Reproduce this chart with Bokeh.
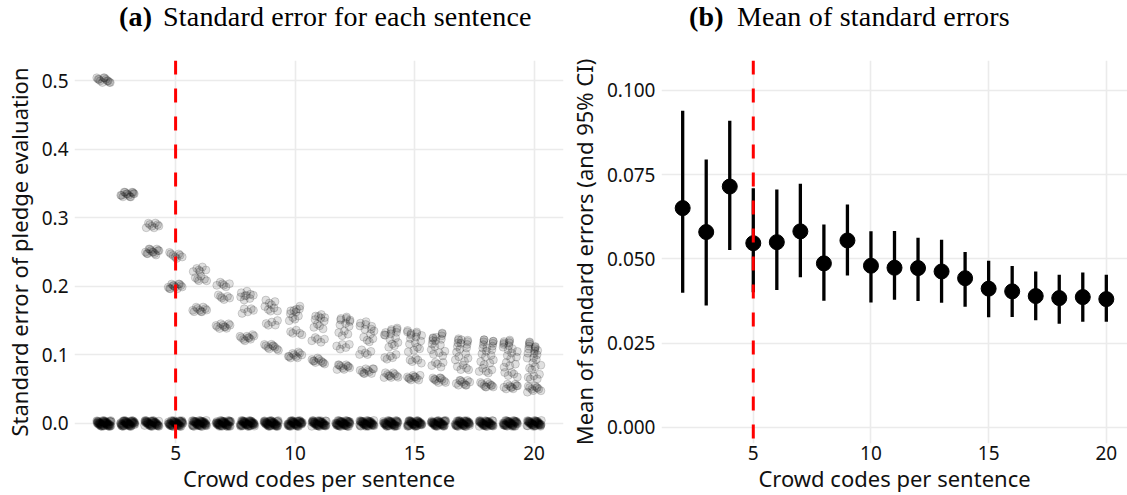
from bokeh.plotting import figure
from bokeh.models import ColumnDataSource, Span, FixedTicker, NumeralTickFormatter, Range1d, Div
from bokeh.layouts import row, column
from bokeh.embed import file_html
from bokeh.resources import INLINE

# ---- data -------------------------------------------------------------
codes = [2, 3, 4, 5, 6, 7, 8, 9, 10, 11, 12, 13, 14, 15, 16, 17, 18, 19, 20]

# sentences whose crowd codes all agree (standard error 0)
zero_counts = [60, 56, 52, 52, 54, 54, 54, 54, 52, 52, 52, 52, 50, 50, 50, 50, 48, 48, 48]

# distinct non-zero standard errors per number of codes, and how many sentences have each
se_levels = [
    [0.500],
    [0.333],
    [0.250, 0.289],
    [0.200, 0.245],
    [0.167, 0.211, 0.224],
    [0.143, 0.184, 0.202],
    [0.125, 0.164, 0.183, 0.189],
    [0.111, 0.147, 0.167, 0.176],
    [0.100, 0.133, 0.153, 0.163, 0.167],
    [0.091, 0.122, 0.141, 0.152, 0.157],
    [0.083, 0.112, 0.131, 0.142, 0.149, 0.151],
    [0.077, 0.104, 0.122, 0.133, 0.140, 0.144],
    [0.071, 0.097, 0.114, 0.125, 0.133, 0.137, 0.139],
    [0.067, 0.091, 0.107, 0.118, 0.126, 0.131, 0.133],
    [0.063, 0.085, 0.101, 0.112, 0.120, 0.125, 0.128, 0.129],
    [0.059, 0.081, 0.095, 0.106, 0.114, 0.119, 0.123, 0.125],
    [0.056, 0.076, 0.090, 0.101, 0.109, 0.114, 0.118, 0.121, 0.121],
    [0.053, 0.072, 0.086, 0.096, 0.104, 0.110, 0.114, 0.116, 0.118],
    [0.050, 0.069, 0.082, 0.092, 0.099, 0.105, 0.109, 0.112, 0.114, 0.115],
]
se_counts = [
    [12],
    [14],
    [13, 8],
    [12, 8],
    [10, 6, 6],
    [10, 6, 6],
    [10, 5, 5, 4],
    [10, 5, 5, 4],
    [10, 5, 4, 4, 3],
    [10, 5, 4, 4, 3],
    [10, 5, 4, 3, 3, 3],
    [10, 5, 4, 3, 3, 3],
    [10, 5, 4, 3, 3, 3, 2],
    [10, 5, 4, 3, 3, 3, 3],
    [10, 5, 4, 3, 3, 3, 2, 2],
    [10, 5, 4, 3, 3, 3, 2, 2],
    [10, 5, 4, 3, 3, 3, 2, 2, 2],
    [10, 5, 4, 3, 3, 3, 2, 2, 2],
    [10, 5, 4, 3, 3, 3, 2, 2, 2, 2],
]

# mean of the standard errors with 95% confidence interval
mean_se = [0.0651, 0.0580, 0.0715, 0.0547, 0.0550, 0.0582, 0.0487, 0.0555, 0.0480, 0.0474,
           0.0473, 0.0463, 0.0443, 0.0412, 0.0404, 0.0390, 0.0384, 0.0387, 0.0381]
ci_low = [0.0400, 0.0362, 0.0527, 0.0401, 0.0408, 0.0446, 0.0376, 0.0451, 0.0371, 0.0379,
          0.0375, 0.0370, 0.0358, 0.0327, 0.0328, 0.0318, 0.0308, 0.0314, 0.0314]
ci_high = [0.0940, 0.0795, 0.0910, 0.0710, 0.0706, 0.0723, 0.0602, 0.0662, 0.0582, 0.0583,
           0.0563, 0.0557, 0.0521, 0.0495, 0.0479, 0.0463, 0.0453, 0.0460, 0.0453]

left_ticks = [0.0, 0.1, 0.2, 0.3, 0.4, 0.5]
right_ticks = [0.0, 0.025, 0.05, 0.075, 0.1]
x_ticks = [5, 10, 15, 20]
threshold = 5

# ---- styling -----------------------------------------------------------
SANS = "Noto Sans"
SERIF = "Liberation Serif"
GRID = "#EBEBEB"
TEXT = "#111111"
TITLE_H = 40
H = 495 - TITLE_H


def jitter_points():
    """Spread the points of each group sideways (and a hair vertically)."""
    xs, ys = [], []
    for n, zc, levels, counts in zip(codes, zero_counts, se_levels, se_counts):
        groups = [(0.0, zc)] + list(zip(levels, counts))
        for level, cnt in groups:
            for i in range(cnt):
                u = (i * 0.6180339887 + level * 7.31 + n * 0.137) % 1.0
                v = (i * 0.7548776662 + level * 3.17 + n * 0.291) % 1.0
                xs.append(n + (u - 0.5) * 0.62)
                ys.append(level + (v - 0.5) * 0.009)
    return xs, ys


def style(p):
    p.outline_line_color = None
    p.background_fill_color = "white"
    p.border_fill_color = "white"
    for ax in (p.xaxis, p.yaxis):
        ax.axis_line_color = None
        ax.major_tick_line_color = None
        ax.minor_tick_line_color = None
        ax.major_tick_out = 0
        ax.major_tick_in = 0
        ax.major_label_text_font = SANS
        ax.major_label_text_font_size = "19px"
        ax.major_label_text_color = TEXT
        ax.axis_label_text_font = SANS
        ax.axis_label_text_font_size = "22px"
        ax.axis_label_text_font_style = "normal"
        ax.axis_label_text_color = TEXT
    p.xaxis.major_label_standoff = 2
    p.xaxis.axis_label_standoff = 0
    p.yaxis.major_label_standoff = 6
    p.yaxis.axis_label_standoff = 5
    for g in (p.xgrid, p.ygrid):
        g.grid_line_color = GRID
        g.grid_line_width = 1.6
        g.minor_grid_line_color = None
    p.xaxis.ticker = FixedTicker(ticks=x_ticks)
    p.xaxis.axis_label = "Crowd codes per sentence"
    p.add_layout(Span(location=threshold, dimension="height", line_color="#FF0000",
                      line_width=3, line_dash="14 14"))


# ---- (a) every sentence --------------------------------------------------
pa = figure(width=565, height=H, output_backend="svg", toolbar_location=None,
            x_range=Range1d(0.77, 21.23), y_range=Range1d(-0.0292, 0.5292),
            min_border_left=72, min_border_right=2, min_border_top=60 - TITLE_H,
            min_border_bottom=52)
style(pa)
pa.yaxis.ticker = FixedTicker(ticks=left_ticks)
pa.yaxis.formatter = NumeralTickFormatter(format="0.0")
pa.yaxis.axis_label = "Standard error of pledge evaluation"

jx, jy = jitter_points()
pa.scatter(x="x", y="y", source=ColumnDataSource(dict(x=jx, y=jy)), size=8,
           fill_color="black", fill_alpha=0.12, line_color="black", line_alpha=0.22,
           line_width=0.7)

# ---- (b) mean with confidence interval ---------------------------------
pb = figure(width=562, height=H, output_backend="svg", toolbar_location=None,
            x_range=Range1d(1.1, 20.9), y_range=Range1d(-0.00475, 0.1089),
            min_border_left=95, min_border_right=0, min_border_top=60 - TITLE_H,
            min_border_bottom=52)
style(pb)
pb.yaxis.ticker = FixedTicker(ticks=right_ticks)
pb.yaxis.formatter = NumeralTickFormatter(format="0.000")
pb.yaxis.axis_label = "Mean of standard errors (and 95% CI)"

src_b = ColumnDataSource(dict(n=codes, m=mean_se, lo=ci_low, hi=ci_high))
pb.segment(x0="n", y0="lo", x1="n", y1="hi", source=src_b, line_color="black", line_width=3.3)
pb.scatter(x="n", y="m", source=src_b, size=15, fill_color="black", line_color="black")

# ---- sub-figure captions ---------------------------------------------------
span_css = ("position:absolute; top:2px; white-space:nowrap; font-family:'Liberation Serif';"
            "font-size:28px; line-height:30px; letter-spacing:0.2px; color:black;")
captions = Div(
    width=1127, height=TITLE_H, margin=0,
    text=(f'<span style="{span_css} left:119px;"><b>(a)</b></span>'
          f'<span style="{span_css} left:163px;">Standard error for each sentence</span>'
          f'<span style="{span_css} left:689px;"><b>(b)</b></span>'
          f'<span style="{span_css} left:737px;">Mean of standard errors</span>'),
    styles={"position": "relative"},
)

layout = column(captions, row(pa, pb, spacing=0), spacing=0)
open("out.html", "w").write(file_html(layout, INLINE))
